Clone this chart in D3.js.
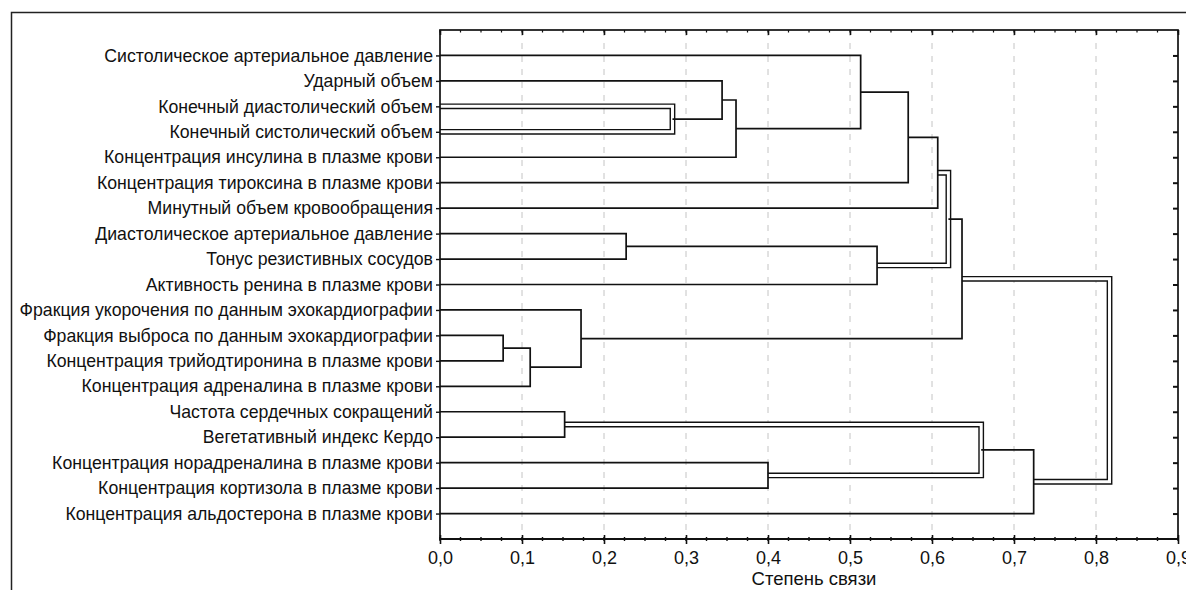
<!DOCTYPE html>
<html>
<head>
<meta charset="utf-8">
<script src="https://cdn.jsdelivr.net/npm/d3@7"></script>
<style>
  body { margin: 0; background: #fff; }
  svg { display: block; }
  text { font-family: "Liberation Sans", Arial, sans-serif; fill: #111; }
</style>
</head>
<body>
<svg id="chart" width="1186" height="590"></svg>
<script>
// leaves, top to bottom
var labels = [
  "Систолическое артериальное давление",
  "Ударный объем",
  "Конечный диастолический объем",
  "Конечный систолический объем",
  "Концентрация инсулина в плазме крови",
  "Концентрация тироксина в плазме крови",
  "Минутный объем кровообращения",
  "Диастолическое артериальное давление",
  "Тонус резистивных сосудов",
  "Активность ренина в плазме крови",
  "Фракция укорочения по данным эхокардиографии",
  "Фракция выброса по данным эхокардиографии",
  "Концентрация трийодтиронина в плазме крови",
  "Концентрация адреналина в плазме крови",
  "Частота сердечных сокращений",
  "Вегетативный индекс Кердо",
  "Концентрация норадреналина в плазме крови",
  "Концентрация кортизола в плазме крови",
  "Концентрация альдостерона в плазме крови"
];

// merge table, hclust style: negative = leaf number, positive = earlier merge
var merges = [
  [-3, -4], [-2, 1], [2, -5], [-1, 3], [4, -6], [5, -7],
  [-8, -9], [7, -10], [6, 8],
  [-12, -13], [10, -14], [-11, 11], [9, 12],
  [-15, -16], [-17, -18], [14, 15], [16, -19], [13, 17]
];
var heights = [
  0.2835, 0.344, 0.361, 0.513, 0.571, 0.607,
  0.227, 0.533, 0.620,
  0.077, 0.110, 0.172, 0.6366,
  0.152, 0.400, 0.660, 0.724, 0.8165
];
// merges drawn with the hollow (double) line
var doubled = [1, 9, 16, 18];

var xTicks = [0, 0.1, 0.2, 0.3, 0.4, 0.5, 0.6, 0.7, 0.8, 0.9];
var xTitle = "Степень связи";

var svg = d3.select("#chart");
var pL = 440, pR = 1178, pT = 30, pB = 539;

var x = d3.scaleLinear().domain([0, 0.9]).range([pL, pR]);
var y = d3.scaleLinear().domain([0, labels.length + 1]).range([pT, pB]);

// outer frame
svg.append("path")
  .attr("d", "M11.5,600 V12.5 H1200")
  .attr("fill", "none").attr("stroke", "#222").attr("stroke-width", 1.5);

// grid
svg.append("g").selectAll("line")
  .data(xTicks.slice(1, -1))
  .enter().append("line")
  .attr("x1", d => x(d)).attr("x2", d => x(d))
  .attr("y1", pT).attr("y2", pB)
  .attr("stroke", "#c4c4c4").attr("stroke-width", 1)
  .attr("stroke-dasharray", "6,7");

// node positions
var pos = [];
function nodeXY(c) {
  if (c < 0) return { h: 0, y: y(-c) };
  return pos[c - 1];
}
merges.forEach(function(m, i) {
  var a = nodeXY(m[0]), b = nodeXY(m[1]);
  pos.push({ h: heights[i], y: (a.y + b.y) / 2, a: a, b: b, n: i + 1 });
});

function uPath(d) {
  return "M" + x(d.a.h) + "," + d.a.y + " H" + x(d.h) + " V" + d.b.y + " H" + x(d.b.h);
}

var dbl = pos.filter(d => doubled.indexOf(d.n) >= 0);
var sgl = pos.filter(d => doubled.indexOf(d.n) < 0);

var tree = svg.append("g").attr("fill", "none");
tree.selectAll("path.outer").data(dbl).enter().append("path")
  .attr("d", uPath).attr("stroke", "#111").attr("stroke-width", 5.8);
tree.selectAll("path.inner").data(dbl).enter().append("path")
  .attr("d", uPath).attr("stroke", "#fff").attr("stroke-width", 3.0);
tree.selectAll("path.single").data(sgl).enter().append("path")
  .attr("d", uPath).attr("stroke", "#111").attr("stroke-width", 1.7);

// plot frame
svg.append("rect")
  .attr("x", pL).attr("y", pT)
  .attr("width", pR - pL).attr("height", pB - pT)
  .attr("fill", "none").attr("stroke", "#111").attr("stroke-width", 1.7);
svg.append("line")
  .attr("x1", pL).attr("x2", pR).attr("y1", pB).attr("y2", pB)
  .attr("stroke", "#111").attr("stroke-width", 2.2);

var fmt = d => d3.format(".1f")(d).replace(".", ",");
var minor = d3.range(0, 0.9001, 0.025);

// bottom axis
var gb = svg.append("g").attr("transform", "translate(0," + pB + ")")
  .call(d3.axisBottom(x).tickValues(xTicks).tickFormat(fmt).tickSize(5).tickPadding(7));
gb.select(".domain").remove();
gb.selectAll(".tick line").attr("y1", -4).attr("stroke", "#111").attr("stroke-width", 1.6);
gb.selectAll(".tick text").style("font-size", "18px").attr("fill", "#111");
svg.append("g").selectAll("line").data(minor).enter().append("line")
  .attr("x1", d => x(d)).attr("x2", d => x(d))
  .attr("y1", pB - 2).attr("y2", pB + 2)
  .attr("stroke", "#111").attr("stroke-width", 1.4);

// top axis ticks
var gt = svg.append("g").attr("transform", "translate(0," + pT + ")")
  .call(d3.axisTop(x).tickValues(xTicks).tickFormat("").tickSize(-5));
gt.select(".domain").remove();
gt.selectAll(".tick line").attr("stroke", "#111").attr("stroke-width", 1.6);
svg.append("g").selectAll("line").data(minor).enter().append("line")
  .attr("x1", d => x(d)).attr("x2", d => x(d))
  .attr("y1", pT).attr("y2", pT + 2.5)
  .attr("stroke", "#111").attr("stroke-width", 1.2);

// left axis with leaf labels
var leafIdx = d3.range(1, labels.length + 1);
var gl = svg.append("g").attr("transform", "translate(" + pL + ",0)")
  .call(d3.axisLeft(y).tickValues(leafIdx).tickFormat(d => labels[d - 1]).tickSize(4).tickPadding(3));
gl.select(".domain").remove();
gl.selectAll(".tick line").attr("stroke", "#111").attr("stroke-width", 1.4);
gl.selectAll(".tick text").style("font-size", "17.7px").attr("fill", "#111");

// right axis ticks
var gr = svg.append("g").attr("transform", "translate(" + pR + ",0)")
  .call(d3.axisRight(y).tickValues(leafIdx).tickFormat("").tickSize(-5));
gr.select(".domain").remove();
gr.selectAll(".tick line").attr("stroke", "#111").attr("stroke-width", 2);

// axis title
svg.append("text")
  .attr("x", 814).attr("y", 585)
  .attr("text-anchor", "middle")
  .style("font-size", "18.5px")
  .text(xTitle);
</script>
</body>
</html>
